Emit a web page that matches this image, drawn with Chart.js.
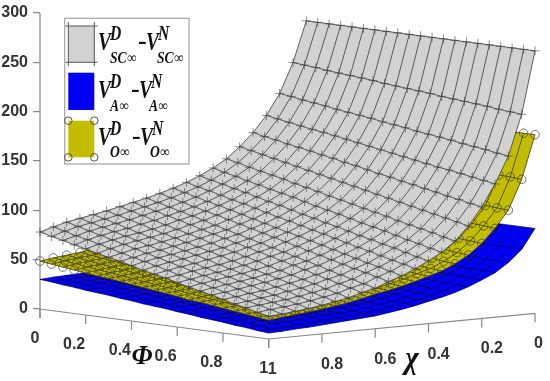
<!DOCTYPE html>
<html><head><meta charset="utf-8">
<style>html,body{margin:0;padding:0;background:#fff}#w{width:550px;height:381px;position:relative}canvas{filter:blur(.35px)}</style>
<script src="https://cdn.jsdelivr.net/npm/chart.js@4"></script>
</head><body><div id="w"><canvas id="c" width="550" height="381"></canvas></div>
<script>
const zTicks=[0,50,100,150,200,250,300];
const phiTicks=[0,0.2,0.4,0.6,0.8,1];
const chiTicks=[1,0.8,0.6,0.4,0.2,0];
const phiLabels=['0','0.2','0.4','0.6','0.8','1'];
const chiLabels=['1','0.8','0.6','0.4','0.2','0'];
const phiGrid=[0,0.05,0.1,0.15,0.2,0.25,0.3,0.35,0.4,0.45,0.5,0.55,0.6,0.65,0.7,0.75,0.8,0.85,0.9,0.95,1];
const chiGrid=[0,0.05,0.1,0.15,0.2,0.25,0.3,0.35,0.4,0.45,0.5,0.55,0.6,0.65,0.7,0.75,0.8,0.85,0.9,0.95,1];
// rows: chi from 0 to 1; columns: phi from 0 to 1
const greyZ=[
[266,266,266,266,266,266,266,266,266,266,266,266,266,266,266,266,266,266,266,266,266],
[225,224,223,221.5,220.5,219.5,218.5,217.5,216,215,214,213,212,210.5,209.5,208.5,207.5,206.5,205,204,203],
[195,193.5,191.5,190,188.5,186.5,185,183.5,182,180,178.5,177,175,173.5,172,170.5,168.5,167,165.5,163.5,162],
[174,172,170,168,166,164.5,162.5,160.5,158.5,156.5,154.5,152.5,150.5,148.5,146.5,144.5,143,141,139,137,135],
[158,155.5,153.5,151,149,147,144.5,142.5,140,138,135.5,133,131,128.5,126.5,124,122,119.5,117.5,115,113],
[145,142.5,140,137.5,135,132.5,130,127.5,125,122.5,120,117.5,115,112.5,110,107.5,105,102.5,100,97.5,95],
[134,131.5,128.5,126,123.5,121,118,115.5,113,110,107.5,105,102,99.5,97,94,91.5,89,86.5,83.5,81],
[126,123,120.5,117.5,115,112,109.5,107,104,101,98.5,96,93,90,87.5,85,82,79,76.5,73.5,71],
[119.5,116.5,114,111,108.5,105.5,102.5,100,97,94,91.5,88.5,86,83,80,77.5,74.5,72,69,66,63.5],
[114,111,108.5,105.5,102.5,100,97,94,91,88.5,85.5,82.5,80,77,74,71,68.5,65.5,62.5,60,57],
[109.5,106.5,103.5,100.5,98,95,92,89,86,83,80,77.5,74.5,71.5,68.5,65.5,62.5,59.5,57,54,51],
[105.5,102.5,99.5,96.5,93.5,91,88,85,82,79,76,73,70,67,64,61,58,55,52.5,49.5,46.5],
[102,99,96,93,90,87,83.5,80.5,77.5,74.5,71.5,68.5,65.5,62.5,59.5,56.5,53,50,47,44,41],
[99,96,93,90,87,84,80.5,77.5,74.5,71.5,68.5,65.5,62.5,59.5,56.5,53.5,50,47,44,41,38],
[96,93,90,86.5,83.5,80.5,77.5,74.5,71,68,65,62,59,55.5,52.5,49.5,46.5,43.5,40,37,34],
[93,90,87,84,80.5,77.5,74.5,71.5,68.5,65.5,62.5,59,56,53,50,47,44,40.5,37.5,34.5,31.5],
[90.5,87.5,84.5,81,78,75,72,69,66,63,60,56.5,53.5,50.5,47.5,44.5,41.5,38.5,35,32,29],
[88,85,82,79,76,73,69.5,66.5,63.5,60.5,57.5,54.5,51.5,48.5,45.5,42.5,39,36,33,30,27],
[85.5,82.5,79.5,76.5,73.5,70.5,67.5,64.5,61.5,58.5,55.5,52.5,49.5,46.5,43.5,40.5,37.5,34.5,31.5,28.5,25.5],
[82,79,76,73.5,70.5,67.5,64.5,61.5,59,56,53,50,47,44.5,41.5,38.5,35.5,32.5,30,27,24],
[78,75,72.5,69.5,67,64,61.5,59,56,53,50.5,48,45,42,39.5,37,34,31,28.5,25.5,23]];
const yellowZ=[
[181,181,181,181,181,181,181,181,181,181,181,181,181,181,181,181,181,181,181,181,181],
[153,152,151.5,150.5,150,149,148,147.5,146.5,146,145,144,143.5,142.5,142,141,140,139.5,138.5,138,137],
[126,125,124,123,122,121,120.5,119.5,118.5,117.5,116.5,115.5,114.5,113.5,112.5,112,111,110,109,108,107],
[110,109,108,107,106,105,104,103,102,101,100,99,98,97,96,95,94,93,92,91,90],
[98,97,96,94.5,93.5,92.5,91.5,90.5,89,88,87,86,85,83.5,82.5,81.5,80.5,79.5,78,77,76],
[88,87,86,84.5,83.5,82.5,81.5,80,79,78,77,75.5,74.5,73.5,72.5,71,70,69,68,66.5,65.5],
[81,80,78.5,77.5,76.5,75.5,74,73,72,70.5,69.5,68.5,67,66,65,64,62.5,61.5,60.5,59,58],
[75,74,72.5,71.5,70.5,69.5,68,67,66,64.5,63.5,62.5,61,60,59,58,56.5,55.5,54.5,53,52],
[71,70,68.5,67.5,66.5,65.5,64,63,62,60.5,59.5,58.5,57,56,55,54,52.5,51.5,50.5,49,48],
[67.5,66.5,65,64,63,61.5,60.5,59.5,58,57,55.5,54.5,53.5,52,51,50,48.5,47.5,46.5,45,44],
[65,64,62.5,61.5,60,59,57.5,56.5,55,54,53,51.5,50.5,49,48,46.5,45.5,44,43,41.5,40.5],
[63,61.5,60.5,59,58,56.5,55.5,54,53,51.5,50,49,47.5,46.5,45,44,42.5,41.5,40,38.5,37.5],
[61,59.5,58.5,57,56,54.5,53,52,50.5,49.5,48,46.5,45.5,44,43,41.5,40,39,37.5,36.5,35],
[59.5,58,57,55.5,54,52.5,51.5,50,48.5,47,46,44.5,43,41.5,40.5,39,37.5,36,35,33.5,32],
[58,56.5,55,53.5,52,51,49.5,48,46.5,45,43.5,42,40.5,39,37.5,36,35,33.5,32,30.5,29],
[57,55.5,54,52.5,51,49.5,48,46.5,45,43.5,42,40.5,39,37.5,36,34.5,33,31.5,30,28.5,27],
[55.5,54,52.5,51,49.5,48,46.5,45,43,41.5,40,38.5,37,35.5,34,32.5,31,29.5,28,26.5,25],
[53.5,52,50.5,49,47.5,46,44.5,43,41.5,40,38.5,37,35.5,34,32.5,31,29.5,28,26.5,25,23.5],
[52,50.5,49,47.5,46,44.5,43,41.5,40,38.5,37,35.5,34,32.5,31,29.5,28,26.5,25,23.5,22],
[50.5,49,47.5,46,44.5,43,41.5,40,38.5,37,35.5,34,32.5,31,29.5,28,26.5,25,23.5,22,20.5],
[48.5,47,45.5,44,42.5,41,40,38.5,37,35.5,34,32.5,31,29,28,26.5,25,23.5,22,20.5,19]];
const blueZ=[
[86,86,86,86,86,86,86,86,86,86,86,86,86,86,86,86,86,86,86,86,86],
[72,71.5,71.5,71,71,70.5,70,70,69.5,69.5,69,68.5,68.5,68,68,67.5,67,67,66.5,66.5,66],
[61,60.5,60.5,60,59.5,59,59,58.5,58,58,57.5,57,57,56.5,56,56,55.5,55,54.5,54.5,54],
[53,52.5,52,52,51.5,51,50.5,50,50,49.5,49,48.5,48,48,47.5,47,46.5,46,46,45.5,45],
[48,47.5,47,46.5,46,46,45.5,45,44.5,44,43.5,43,42.5,42,41.5,41,41,40.5,40,39.5,39],
[44,43.5,43,42.5,42,41.5,41,40.5,40,39.5,39,38,37.5,37,36.5,36,35.5,35,34.5,34,33.5],
[41,40.5,40,39,38.5,38,37.5,37,36,35.5,35,34.5,34,33,32.5,32,31.5,31,30,29.5,29],
[39,38.5,37.5,37,36.5,35.5,35,34.5,33.5,33,32,31.5,31,30,29.5,29,28,27.5,27,26,25.5],
[37.5,36.5,36,35,34.5,34,33,32,31.5,31,30,29,28.5,28,27,26,25.5,25,24,23,22.5],
[36.5,35.5,35,34,33,32,31.5,30.5,30,29,28,27,26.5,25.5,25,24,23,22,21,20.5,19.5],
[36,35,34,33,32,31,30.5,29.5,28.5,27.5,26.5,25.5,24.5,23.5,22.5,22,21,20,19,18,17],
[35,34,33,32,31,30,29,28,27,26,25,24,23,22,21,20,19,18,17,16,15],
[34.5,33.5,32.5,31,30,29,28,27,26,25,24,22.5,21.5,20.5,19.5,18.5,17.5,16.5,15,14,13],
[34,33,32,30.5,29.5,28.5,27.5,26.5,25,24,23,22,21,19.5,18.5,17.5,16.5,15.5,14,13,12],
[33.5,32.5,31,30,29,28,27,25.5,24.5,23.5,22.5,21,20,19,18,16.5,15.5,14.5,13.5,12,11],
[33,32,30.5,29.5,28.5,27.5,26,25,24,22.5,21.5,20.5,19,18,17,16,14.5,13.5,12.5,11,10],
[32.5,31.5,30,29,28,26.5,25.5,24.5,23,22,20.5,19.5,18.5,17,16,15,13.5,12.5,11.5,10,9],
[32,31,29.5,28.5,27,26,25,23.5,22.5,21,20,19,17.5,16.5,15,14,13,11.5,10.5,9,8],
[31.5,30.5,29,28,26.5,25.5,24.5,23,22,20.5,19.5,18.5,17,16,14.5,13.5,12.5,11,10,8.5,7.5],
[31,30,28.5,27.5,26,25,23.5,22.5,21,20,18.5,17.5,16,15,13.5,12.5,11.5,10,9,7.5,6.5],
[30,29,27.5,26.5,25,24,23,21.5,20.5,19,18,17,15.5,14.5,13,12,11,9.5,8.5,7,6]];

// oblique projection of the 3-D axes box onto the two chart scales
const UNIT=305/309.12;               // pixels per z unit
const proj=(phi,chi,z)=>({
  x:40+228.7*phi+266.3*(1-chi),
  y:z-(30*phi-25.7*(1-chi))/UNIT
});
const datasets=[];
const lineDs=(data,o)=>datasets.push(Object.assign({data,showLine:true,fill:false,tension:0,clip:false,pointRadius:0,borderWidth:1,borderColor:'#555'},o));

function addSurface(tbl,fillCol,meshCol,lw,marker){
  const n=chiGrid.length,m=phiGrid.length,out=[];
  for(let j=0;j<m;j++)out.push(proj(phiGrid[j],chiGrid[0],tbl[0][j]));
  for(let i=1;i<n;i++)out.push(proj(phiGrid[m-1],chiGrid[i],tbl[i][m-1]));
  for(let j=m-2;j>=0;j--)out.push(proj(phiGrid[j],chiGrid[n-1],tbl[n-1][j]));
  for(let i=n-2;i>0;i--)out.push(proj(phiGrid[0],chiGrid[i],tbl[i][0]));
  lineDs(out,{fill:'shape',backgroundColor:fillCol,borderWidth:0,borderColor:'rgba(0,0,0,0)'});
  for(let j=0;j<m;j++)lineDs(chiGrid.map((c,i)=>proj(phiGrid[j],c,tbl[i][j])),{borderColor:meshCol,borderWidth:lw});
  for(let i=0;i<n;i++)lineDs(phiGrid.map((p,j)=>proj(p,chiGrid[i],tbl[i][j])),Object.assign({borderColor:meshCol,borderWidth:lw},marker));
}
// axes
const TL=9/UNIT;
lineDs([proj(0,1,300),proj(0,1,-TL)],{borderColor:'#888',borderWidth:1.2});
lineDs([proj(0,1,0),proj(1,1,0),proj(1,0,0)],{borderColor:'#888',borderWidth:1.2});
phiTicks.forEach(p=>lineDs([proj(p,1,0),proj(p,1,-TL)],{borderColor:'#888',borderWidth:1.2}));
chiTicks.forEach(c=>lineDs([proj(1,c,0),proj(1,c,-TL)],{borderColor:'#888',borderWidth:1.2}));
// surfaces, back to front
addSurface(blueZ,'#0000f8','#000048',.7,{});
addSurface(yellowZ,'#c2bd00','#3a3a10',.8,{pointRadius:4.3,pointStyle:'circle',pointBackgroundColor:'rgba(0,0,0,0)',pointBorderColor:'rgba(50,50,50,.7)',pointBorderWidth:.9});
addSurface(greyZ,'#d2d2d2','#444',.85,{pointRadius:4.5,pointStyle:'cross',pointBorderColor:'rgba(60,60,60,.65)',pointBorderWidth:.9});
datasets.forEach((d,i)=>d.order=datasets.length-i);

const SERIF='"Liberation Serif"';
const TICKF='"Liberation Sans Narrow","Liberation Sans",sans-serif';
function txt(ctx,s,x,y,font,sx,align,col){
  ctx.save();ctx.translate(x,y);ctx.scale(sx,1);ctx.font=font;ctx.fillStyle=col||'#111';ctx.textAlign=align||'left';ctx.textBaseline='alphabetic';ctx.fillText(s,0,0);ctx.restore();
}
const legendRows=[
 {sub:'SC\u221E',top:26,bot:62.3,fill:'#d2d2d2',mark:'cross',vb:50,n:157,mx:138},
 {sub:'A\u221E',top:72.7,bot:110,fill:'#0000f8',mark:'',vb:98,n:149,mx:131},
 {sub:'O\u221E',top:120.7,bot:157.3,fill:'#c2bd00',mark:'circle',vb:145,n:150,mx:132}];
const legendSubBase=[62.7,111,157];
const textPlugin={id:'txt',afterDraw(ch){
  const ctx=ch.ctx,xs=ch.scales.x,ys=ch.scales.y;
  const font='bold 16px '+TICKF;
  phiTicks.forEach((p,k)=>{const q=proj(p,1,-TL);txt(ctx,phiLabels[k],xs.getPixelForValue(q.x)-.5,ys.getPixelForValue(q.y)+25,font,1,'right','#333');});
  chiTicks.forEach((c,k)=>{const q=proj(1,c,-TL);txt(ctx,chiLabels[k],xs.getPixelForValue(q.x)-1,ys.getPixelForValue(q.y)+26,font,1,'left','#333');});
  txt(ctx,'\u03A6',142,364,'italic bold 28px '+SERIF,.95,'center','#111');
  txt(ctx,'\u03C7',412,368,'italic bold 32px '+SERIF,.9,'center','#111');
  // legend
  ctx.save();ctx.fillStyle='#fff';ctx.strokeStyle='#aaa';ctx.lineWidth=1.3;ctx.fillRect(64.7,18.3,124.3,145.7);ctx.strokeRect(64.7,18.3,124.3,145.7);
  legendRows.forEach((r,k)=>{
    ctx.fillStyle=r.fill;ctx.fillRect(68.3,r.top,26,r.bot-r.top);
    ctx.strokeStyle='#555';ctx.lineWidth=1;
    if(r.mark==='cross'){ctx.beginPath();
      [r.top,r.bot].forEach(y=>{ctx.moveTo(65.5,y);ctx.lineTo(97.5,y);});
      [68.3,94.3].forEach(x=>{ctx.moveTo(x,r.top-4);ctx.lineTo(x,r.bot+4);});ctx.stroke();}
    if(r.mark==='circle'){[[68.3,r.top],[94.3,r.top],[68.3,r.bot],[94.3,r.bot]].forEach(p=>{ctx.beginPath();ctx.arc(p[0],p[1],3.8,0,7);ctx.stroke();});}
    const v='italic bold 26px '+SERIF,s='italic bold 20px '+SERIF,u='italic bold 16px '+SERIF;
    txt(ctx,'V',98,r.vb,v,.75);
    txt(ctx,'D',110,r.vb-10.5,s,.78);
    txt(ctx,r.sub,110,legendSubBase[k],u,.85);
    txt(ctx,'-',r.mx,r.vb-1,'bold 26px '+SERIF,1);
    txt(ctx,'V',r.mx+8,r.vb,v,.75);
    txt(ctx,'N',r.mx+20,r.vb-10.5,s,.78);
    txt(ctx,r.sub,r.n,legendSubBase[k],u,.85);
  });
  ctx.restore();
}};
new Chart(document.getElementById('c'),{
  type:'scatter',
  data:{datasets},
  plugins:[textPlugin],
  options:{
    responsive:false,animation:false,
    layout:{autoPadding:false,padding:{top:13,left:0,right:0,bottom:0}},
    plugins:{legend:{display:false},tooltip:{enabled:false},title:{display:false}},
    events:[],
    scales:{
      x:{type:'linear',min:40,max:550,display:false},
      y:{type:'linear',min:-(381-309)/UNIT,max:300,
        border:{display:false},
        grid:{drawOnChartArea:false,drawTicks:true,tickLength:7,color:'#888',lineWidth:1.2},
        afterBuildTicks(s){s.ticks=zTicks.map(v=>({value:v}));},
        afterFit(s){s.width=40;s.paddingTop=0;s.paddingBottom=0;},
        ticks:{color:'#333',padding:5,font:{family:TICKF,size:16,weight:'bold'},callback:v=>String(v)}
      }
    }
  }
});
</script></body></html>
